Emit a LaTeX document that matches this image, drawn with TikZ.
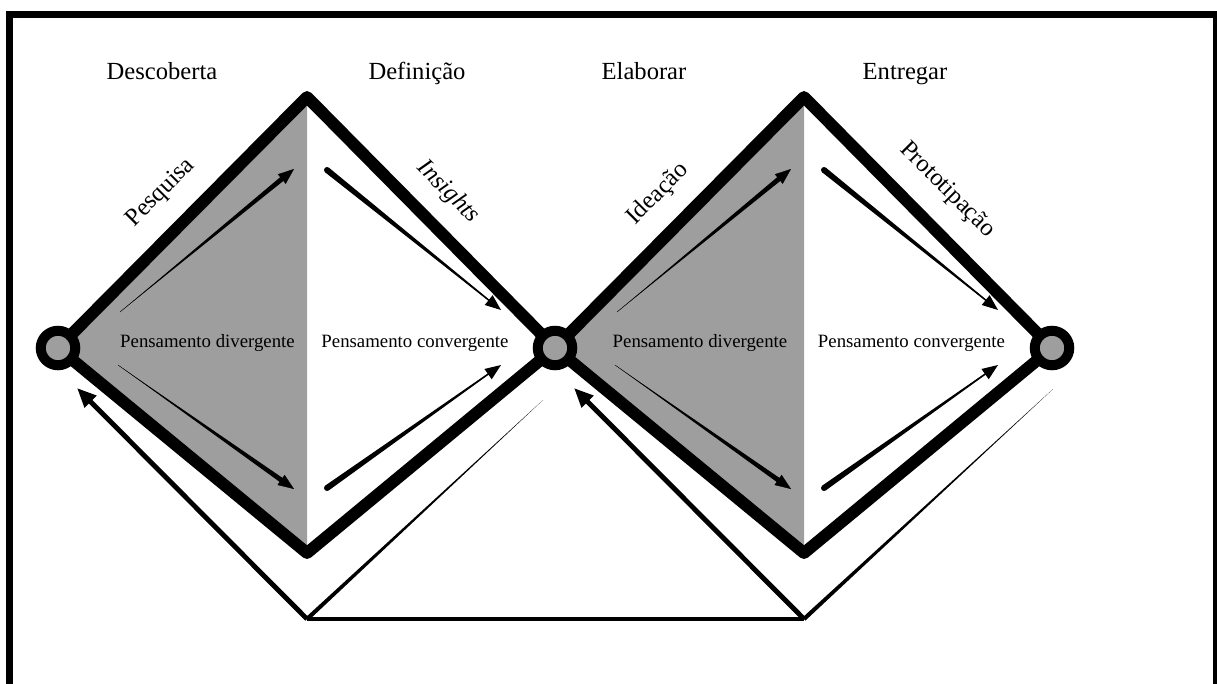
\documentclass[tikz,border=0pt]{standalone}
\usepackage{fontspec}
\setmainfont{Liberation Serif}
\usetikzlibrary{arrows.meta,calc}
\definecolor{fillgray}{RGB}{158,158,158}
\tikzset{frame/.style={line width=4pt},
         edge/.style={line width=6.8pt,line join=round},
         hub/.style={circle,draw,line width=5.7pt,fill=fillgray,minimum size=0.69cm,inner sep=0pt},
         back/.style={line width=2.8pt,-{Triangle[length=11pt,width=9pt]}},
         base/.style={line width=2.8pt},
         head/.style={font=\fontsize{14}{16}\selectfont,inner sep=0pt},
         phase/.style={font=\fontsize{10.7}{12}\selectfont,inner sep=0pt,anchor=base}}
% thin at #1, widening towards the tip #2
\newcommand{\growarrow}[2]{%
  \coordinate (m) at ($(#2)!8pt!(#1)$);
  \fill (#1) -- ($(m)!1.4pt!90:(#2)$) -- ($(m)!1.4pt!-90:(#2)$) -- cycle;
  \draw[line width=0.2pt,-{Triangle[length=9pt,width=7pt]}] (#1) -- (#2);}
% thick round start at #1, thinning towards the tip #2
\newcommand{\shrinkarrow}[2]{%
  \coordinate (m) at ($(#2)!8pt!(#1)$);
  \fill (#1) circle (1.7pt);
  \fill ($(#1)!1.7pt!90:(m)$) -- ($(m)!0.4pt!-90:(#1)$) -- ($(m)!0.4pt!90:(#1)$) -- ($(#1)!1.7pt!-90:(m)$) -- cycle;
  \draw[line width=0.6pt,-{Triangle[length=9pt,width=7pt]}] (#1) -- (#2);}

\begin{document}
\begin{tikzpicture}[x=0.02cm,y=-0.02cm]
\useasboundingbox (0,0) rectangle (1217,683);
\draw[frame] (9.5,700) -- (9.5,14.5) -- (1216.5,14.5) -- (1216.5,700);

% corners of the two diamonds
\coordinate (c1) at (58,348);
\coordinate (c2) at (555,348);
\coordinate (c3) at (1052,348);
\coordinate (t1) at (307,97);
\coordinate (b1) at (307,553);
\coordinate (t2) at (804,97);
\coordinate (b2) at (804,553);

\fill[fillgray] (c1) -- (t1) -- (b1) -- cycle;
\fill[fillgray] (c2) -- (t2) -- (b2) -- cycle;
\draw[edge] (c1) -- (t1) -- (c2) -- (b1) -- cycle;
\draw[edge] (c2) -- (t2) -- (c3) -- (b2) -- cycle;

\node[hub] (h1) at (c1) {};
\node[hub] (h2) at (c2) {};
\node[hub] (h3) at (c3) {};

% feedback at the bottom
\coordinate (f1) at (307,619);
\coordinate (f2) at (804,619);
\coordinate (a1) at (77,388);
\coordinate (a2) at (574,388);
\coordinate (e1) at (543,400);
\coordinate (e2) at (1053,389);
\draw[back] (f1) -- (a1);
\draw[back] (f2) -- (a2);
\draw[base] (f1) -- (f2);
\fill ($(f1)!1.2pt!90:(e1)$) -- (e1) -- ($(f1)!1.2pt!-90:(e1)$) -- cycle;
\fill ($(f2)!1.2pt!90:(e2)$) -- (e2) -- ($(f2)!1.2pt!-90:(e2)$) -- cycle;

\foreach \s in {0,497}
         {
           \growarrow{120+\s,312}{294+\s,169}
           \growarrow{118+\s,365}{294+\s,489}
           \shrinkarrow{327+\s,170}{501+\s,310}
           \shrinkarrow{327+\s,488}{501+\s,365}
         }

\node[head,anchor=base] (desc) at (162,79.5) {Descoberta};
\node[head,anchor=base] (defi) at (417,79.5) {Definição};
\node[head,anchor=base] (elab) at (644,79.5) {Elaborar};
\node[head,anchor=base] (entr) at (905,79.5) {Entregar};

\node[head,rotate=45] (pesq) at (161,193) {Pesquisa};
\node[head,rotate=-45,font=\fontsize{14}{16}\selectfont\itshape] (insi) at (448,192) {Insights};
\node[head,rotate=45] (idea) at (658,194) {Ideação};
\node[head,rotate=-45] (prot) at (947,190) {Prototipação};

\node[phase] (div1) at (207.5,347) {Pensamento divergente};
\node[phase] (con1) at (415,347) {Pensamento convergente};
\node[phase] (div2) at (700,347) {Pensamento divergente};
\node[phase] (con2) at (911.5,347) {Pensamento convergente};
\end{tikzpicture}
\end{document}
